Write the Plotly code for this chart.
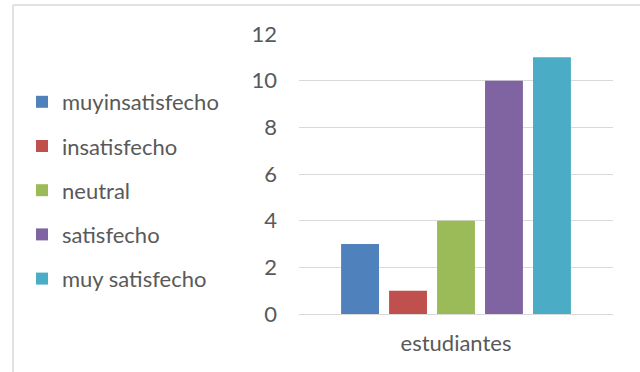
import plotly.graph_objects as go

categories = ["estudiantes"]
series_names = ["muyinsatisfecho", "insatisfecho", "neutral", "satisfecho", "muy satisfecho"]
series_values = [[3], [1], [4], [10], [11]]
colors = ["#4f81bd", "#c0504d", "#9bbb59", "#8064a2", "#4bacc6"]
y_ticks = [0, 2, 4, 6, 8, 10, 12]

FONT = "Lato, Carlito, Calibri, sans-serif"
GRAY = "#595959"
FS = 22

fig = go.Figure()
for i, (name, vals) in enumerate(zip(series_names, series_values)):
    fig.add_trace(go.Bar(
        x=categories, y=vals, name=name,
        marker=dict(color=colors[i], line=dict(width=0)),
        legendgroup=f"g{i}",
    ))

W, H = 640, 372
ml, mr, mt, mb = 299, 27, 34, 58
pw, ph = W - ml - mr, H - mt - mb

def px_x(p):
    return (p - ml) / pw

def px_y(p):
    return (H - mb - p) / ph

fig.update_layout(
    width=W, height=H,
    margin=dict(l=ml, r=mr, t=mt, b=mb, pad=0),
    paper_bgcolor="white", plot_bgcolor="white",
    barmode="group", bargap=0.236, bargroupgap=0.21,
    font=dict(family=FONT, size=FS, color=GRAY),
    showlegend=True,
    legend=dict(
        x=px_x(22), y=px_y(81), xanchor="left", yanchor="top",
        font=dict(family=FONT, size=FS, color=GRAY),
        tracegroupgap=12.6, itemwidth=30,
        bgcolor="rgba(0,0,0,0)",
    ),
    xaxis=dict(
        showgrid=False, showline=False, ticks="", zeroline=False,
        ticklabelstandoff=14,
        tickfont=dict(family=FONT, size=FS, color=GRAY),
    ),
    yaxis=dict(
        range=[0, 12], tickvals=y_ticks, showgrid=True, gridcolor="#d9d9d9",
        gridwidth=1, zeroline=True, zerolinecolor="#d9d9d9", zerolinewidth=1,
        showline=False, ticks="", ticklabelstandoff=21,
        tickfont=dict(family=FONT, size=FS, color=GRAY),
    ),
    shapes=[
        dict(type="line", xref="paper", yref="paper", x0=px_x(13), x1=px_x(640),
             y0=px_y(5), y1=px_y(5), line=dict(color="#d9d9d9", width=1.5)),
        dict(type="line", xref="paper", yref="paper", x0=px_x(13), x1=px_x(13),
             y0=px_y(5), y1=px_y(372), line=dict(color="#d9d9d9", width=1.5)),
    ],
)

fig.write_html("out.html")
